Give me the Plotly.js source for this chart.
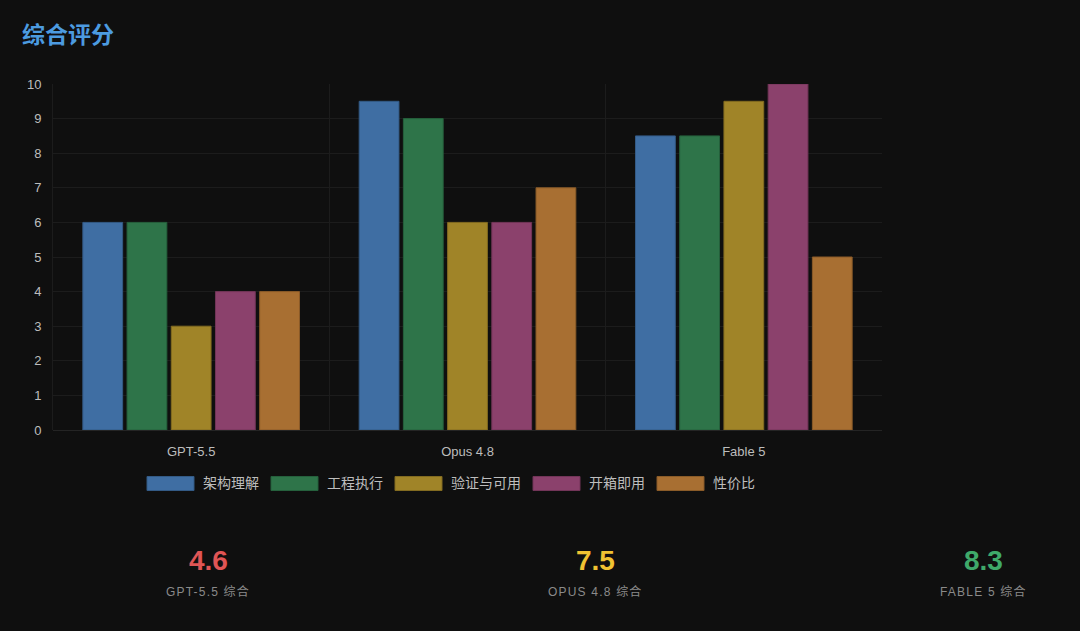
<!DOCTYPE html>
<html>
<head>
<meta charset="utf-8">
<script src="https://cdn.plot.ly/plotly-3.0.1.min.js"></script>
<style>
html,body{margin:0;padding:0;background:#0f0f0f;}
#chart{width:1080px;height:631px;}
</style>
</head>
<body>
<div id="chart"></div>
<script>
const models = ["GPT-5.5", "Opus 4.8", "Fable 5"];
const dimensions = ["架构理解", "工程执行", "验证与可用", "开箱即用", "性价比"];
const scoreArch = [6, 9.5, 8.5];
const scoreExec = [6, 9, 8.5];
const scoreVerify = [3, 6, 9.5];
const scoreReady = [4, 6, 10];
const scoreCost = [4, 7, 5];
const overallScores = ["4.6", "7.5", "8.3"];
const overallLabels = ["GPT-5.5 综合", "OPUS 4.8 综合", "FABLE 5 综合"];

const seriesValues = [scoreArch, scoreExec, scoreVerify, scoreReady, scoreCost];
const fillColors = ["#3f6ea3", "#2e7449", "#a08428", "#8b416c", "#a86f32"];
const lineColors = ["#335a85", "#25603c", "#826b20", "#723558", "#8a5b28"];
const overallColors = ["#e05555", "#f0c232", "#3fa96a"];
const overallX = [0.187, 0.654, 1.122];

const FONT = '"Liberation Sans", "Noto Sans CJK SC", sans-serif';

// plot area geometry in pixels (for the hand-built legend)
const PL = 53, PW = 829, PT = 84, PH = 346;
const px2x = p => (p - PL) / PW;
const px2y = p => (PT + PH - p) / PH;

const traces = dimensions.map((d, i) => ({
  type: "bar",
  name: d,
  x: models,
  y: seriesValues[i],
  marker: {color: fillColors[i], line: {color: lineColors[i], width: 1}},
  hoverinfo: "x+y+name",
  showlegend: false
}));

const annotations = [];
const shapes = [];
models.forEach((m, i) => {
  annotations.push({
    xref: "paper", yref: "paper", x: overallX[i], y: -0.376,
    text: "<b>" + overallScores[i] + "</b>", showarrow: false,
    font: {family: FONT, size: 28, color: overallColors[i]},
    xanchor: "center", yanchor: "middle"
  });
  annotations.push({
    xref: "paper", yref: "paper", x: overallX[i], y: -0.468,
    text: '<span style="letter-spacing:1.2px">' + overallLabels[i] + '</span>', showarrow: false,
    font: {family: FONT, size: 12, color: "#8a8a8a"},
    xanchor: "center", yanchor: "middle"
  });
});

// legend: swatch 47x14, text 14px
let cursor = 147;
const legY = 483.5;
dimensions.forEach((d, i) => {
  shapes.push({
    type: "rect", xref: "paper", yref: "paper",
    x0: px2x(cursor), x1: px2x(cursor + 47),
    y0: px2y(legY + 7), y1: px2y(legY - 7),
    fillcolor: fillColors[i], line: {color: lineColors[i], width: 1}
  });
  annotations.push({
    xref: "paper", yref: "paper", x: px2x(cursor + 54), y: px2y(legY),
    text: d, showarrow: false, xanchor: "left", yanchor: "middle",
    font: {family: FONT, size: 14, color: "#bdbdbd"}
  });
  cursor += 55 + d.length * 14 + 13;
});

const layout = {
  width: 1080, height: 631,
  paper_bgcolor: "#0f0f0f", plot_bgcolor: "#0f0f0f",
  font: {family: FONT, color: "#bdbdbd", size: 13},
  title: {
    text: "<b>综合评分</b>", x: 22 / 1080, xref: "container", xanchor: "left",
    y: 1 - 35 / 631, yref: "container", yanchor: "middle",
    font: {family: FONT, size: 23, color: "#4c9be0"}
  },
  margin: {l: PL, r: 1080 - PL - PW, t: PT, b: 631 - PT - PH, pad: 0},
  barmode: "group", bargap: 0.2, bargroupgap: 0.1,
  xaxis: {
    type: "category", tickson: "boundaries", showgrid: true,
    gridcolor: "#1c1c1c", gridwidth: 1, zeroline: false,
    showline: false, ticks: "", ticklen: 0, ticklabelstandoff: 12,
    tickfont: {size: 13, color: "#bdbdbd"}, automargin: false
  },
  yaxis: {
    range: [0, 10], dtick: 1, tick0: 0, showgrid: true,
    gridcolor: "#1c1c1c", gridwidth: 1, zeroline: true, zerolinecolor: "#242424",
    showline: true, linecolor: "#1c1c1c", ticks: "", ticklabelstandoff: 8,
    tickfont: {size: 13, color: "#bdbdbd"}, automargin: false
  },
  showlegend: false,
  shapes: shapes,
  annotations: annotations
};

Plotly.newPlot("chart", traces, layout, {displayModeBar: false});
</script>
</body>
</html>
